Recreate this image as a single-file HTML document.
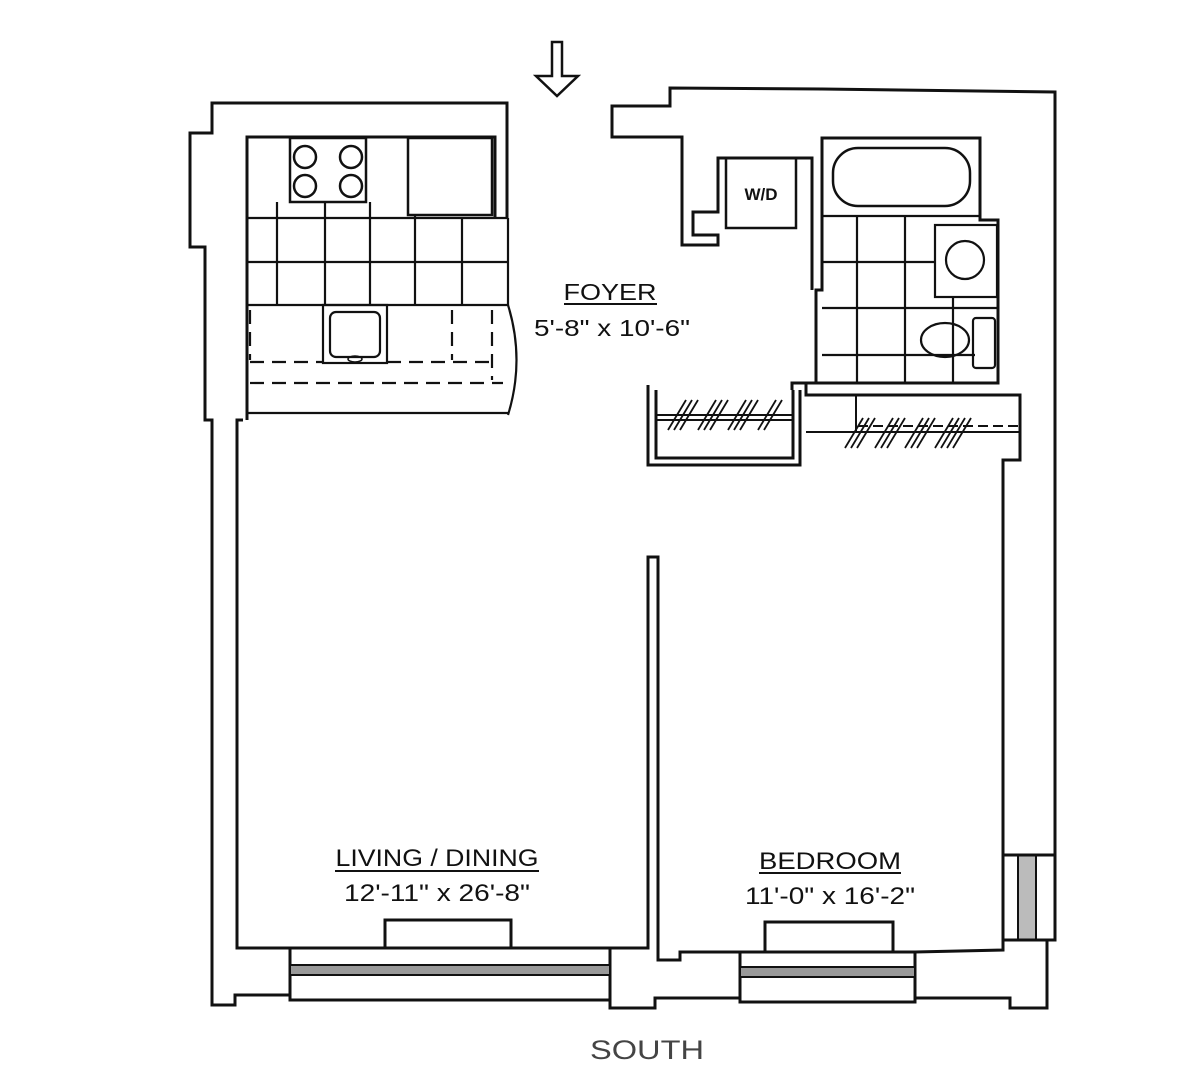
<!DOCTYPE html>
<html><head><meta charset="utf-8"><style>
html,body{margin:0;padding:0;background:#fff;}
svg{display:block;}
text{font-family:"Liberation Sans",sans-serif;fill:#111;}
</style></head><body>
<svg width="1200" height="1087" viewBox="0 0 1200 1087" xmlns="http://www.w3.org/2000/svg">
<g fill="none" stroke="#111" stroke-width="3" stroke-linejoin="miter">
<polygon points="552,42 562,42 562,76 578,76 557,96 536,76 552,76" stroke-width="2.5"/>
<polyline points="507,218 507,103 212,103 212,133 190,133 190,247 205,247 205,420 212,420 212,1005 235,1005 235,995 290,995"/>
<polyline points="495,218 495,137 247,137 247,420"/>
<polyline points="243,420 237,420 237,948 290,948"/>
<rect x="290" y="948" width="320" height="52"/>
<rect x="385" y="920" width="126" height="28"/>
<rect x="290" y="965" width="320" height="10" fill="#999" stroke-width="2"/>
<polyline points="610,948 648,948 648,557 658,557 658,960 680,960 680,952 740,952"/>
<polyline points="610,995 610,1008 655,1008 655,998 740,998"/>
<rect x="740" y="952" width="175" height="50"/>
<rect x="765" y="922" width="128" height="30"/>
<rect x="740" y="967" width="175" height="10" fill="#999" stroke-width="2"/>
<polyline points="915,952 1003,950 1003,855"/>
<polyline points="915,998 1010,998 1010,1008 1047,1008 1047,940 1055,940 1055,92 822,89 670,88 670,106 612,106 612,137 682,137 682,245 718,245 718,235 693,235 693,212 718,212 718,158 812,158 812,290"/>
<rect x="1018" y="855" width="18" height="85" fill="#bbb" stroke-width="2"/>
<polyline points="1003,855 1055,855"/>
<polyline points="1003,940 1047,940"/>
<polyline points="1003,855 1003,460 1020,460 1020,395 806,395 806,383 998,383 998,220 980,220 980,138 822,138 822,290 816,290 816,383 792,383 792,390"/>
<polyline points="648,385 648,465 800,465 800,390"/>
<polyline points="656,390 656,458 793,458 793,390"/>
<line x1="656" y1="415" x2="793" y2="415" stroke-width="2"/>
<line x1="656" y1="420" x2="793" y2="420" stroke-width="2"/>
<line x1="806" y1="432" x2="1020" y2="432" stroke-width="2"/>
<line x1="856" y1="395" x2="856" y2="432" stroke-width="2"/>
<line x1="858" y1="426" x2="1018" y2="426" stroke-width="2" stroke-dasharray="10 5"/>
<rect x="290" y="138" width="76" height="64" stroke-width="2.5"/>
<circle cx="305" cy="157" r="11" stroke-width="2.5"/><circle cx="351" cy="157" r="11" stroke-width="2.5"/>
<circle cx="305" cy="186" r="11" stroke-width="2.5"/><circle cx="351" cy="186" r="11" stroke-width="2.5"/>
<rect x="408" y="138" width="84" height="77" stroke-width="2.5"/>
<g stroke-width="2.2">
<line x1="247" y1="218" x2="508" y2="218"/><line x1="508" y1="218" x2="508" y2="305"/>
<line x1="247" y1="262" x2="508" y2="262"/><line x1="247" y1="305" x2="508" y2="305"/>
<line x1="277" y1="202" x2="277" y2="305"/><line x1="325" y1="202" x2="325" y2="305"/>
<line x1="370" y1="202" x2="370" y2="305"/><line x1="415" y1="215" x2="415" y2="305"/>
<line x1="462" y1="218" x2="462" y2="305"/>
<line x1="247" y1="413" x2="508" y2="413"/>
<path d="M508,305 Q525,360 508,415"/>
<rect x="330" y="312" width="50" height="45" rx="6"/>
<rect x="323" y="305" width="64" height="58"/>
<line x1="250" y1="362" x2="323" y2="362" stroke-dasharray="14 8"/>
<line x1="387" y1="362" x2="497" y2="362" stroke-dasharray="14 8"/>
<line x1="250" y1="383" x2="503" y2="383" stroke-dasharray="14 8"/>
<line x1="452" y1="310" x2="452" y2="360" stroke-dasharray="14 8"/>
<line x1="492" y1="310" x2="492" y2="380" stroke-dasharray="14 8"/>
<line x1="250" y1="310" x2="250" y2="360" stroke-dasharray="14 8"/>
</g>
<ellipse cx="355" cy="359" rx="7" ry="3" stroke-width="1.5"/>
<rect x="726" y="158" width="70" height="70" stroke-width="2.5"/>
<rect x="833" y="148" width="137" height="58" rx="25" stroke-width="2.5"/>
<g stroke-width="2.2">
<line x1="822" y1="216" x2="980" y2="216"/>
<line x1="822" y1="262" x2="935" y2="262"/>
<line x1="822" y1="308" x2="998" y2="308"/>
<line x1="822" y1="355" x2="975" y2="355"/>
<line x1="857" y1="216" x2="857" y2="383"/>
<line x1="905" y1="216" x2="905" y2="383"/>
<line x1="953" y1="297" x2="953" y2="383"/>
<rect x="935" y="225" width="62" height="72"/>
<circle cx="965" cy="260" r="19"/>
<ellipse cx="945" cy="340" rx="24" ry="17"/>
<rect x="973" y="318" width="22" height="50" rx="3"/>
</g>
<g stroke-width="1.8">
<path d="M668,430 l18,-30 M674,430 l18,-30 M680,430 l18,-30 M698,430 l18,-30 M704,430 l18,-30 M710,430 l18,-30 M728,430 l18,-30 M734,430 l18,-30 M740,430 l18,-30 M758,430 l18,-30 M764,430 l18,-30"/>
<path d="M845,448 l18,-30 M851,448 l18,-30 M857,448 l18,-30 M875,448 l18,-30 M881,448 l18,-30 M887,448 l18,-30 M905,448 l18,-30 M911,448 l18,-30 M917,448 l18,-30 M935,448 l18,-30 M941,448 l18,-30 M947,448 l18,-30 M953,448 l18,-30"/>
</g>
</g>
<text x="761" y="200" font-size="17" font-weight="bold" text-anchor="middle">W/D</text>
<text x="610" y="300" font-size="23" text-anchor="middle" textLength="93" lengthAdjust="spacingAndGlyphs">FOYER</text>
<line x1="564" y1="304" x2="657" y2="304" stroke="#111" stroke-width="2"/>
<text x="612" y="336" font-size="23" text-anchor="middle" textLength="156" lengthAdjust="spacingAndGlyphs">5'-8" x 10'-6"</text>
<text x="437" y="866" font-size="24" text-anchor="middle" textLength="203" lengthAdjust="spacingAndGlyphs">LIVING / DINING</text>
<line x1="335" y1="871" x2="539" y2="871" stroke="#111" stroke-width="2"/>
<text x="437" y="901" font-size="24" text-anchor="middle" textLength="186" lengthAdjust="spacingAndGlyphs">12'-11" x 26'-8"</text>
<text x="830" y="869" font-size="24" text-anchor="middle" textLength="142" lengthAdjust="spacingAndGlyphs">BEDROOM</text>
<line x1="759" y1="873" x2="901" y2="873" stroke="#111" stroke-width="2"/>
<text x="830" y="904" font-size="24" text-anchor="middle" textLength="170" lengthAdjust="spacingAndGlyphs">11'-0" x 16'-2"</text>
<text x="647" y="1059" font-size="27" text-anchor="middle" style="fill:#444" textLength="114" lengthAdjust="spacingAndGlyphs">SOUTH</text>
</svg>
</body></html>
